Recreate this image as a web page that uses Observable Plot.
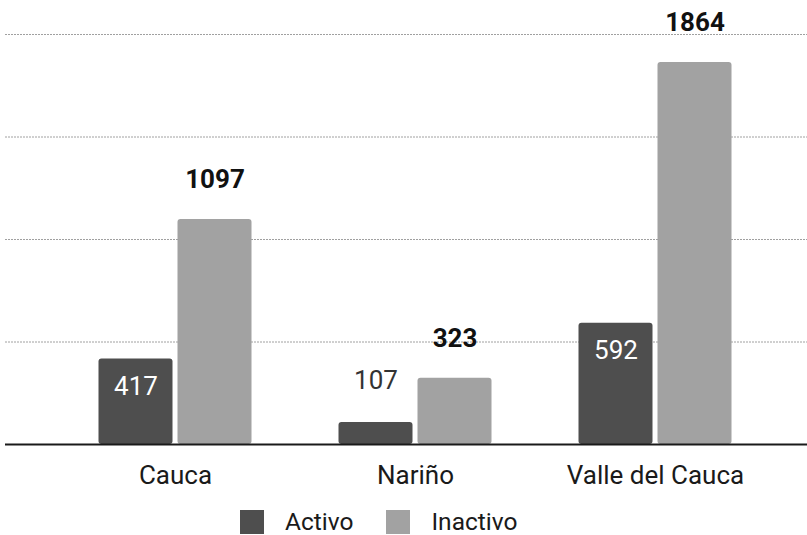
<!DOCTYPE html>
<html>
<head>
<meta charset="utf-8">
<script src="https://cdn.jsdelivr.net/npm/d3@7"></script>
<script src="https://cdn.jsdelivr.net/npm/@observablehq/plot@0.6"></script>
<style>
  html, body { margin: 0; padding: 0; background: #fff; }
  #chart { width: 807px; font-family: Roboto, sans-serif; }
  .legend { display: flex; align-items: center; height: 27px; margin-top: 18px; padding-left: 240px; box-sizing: border-box; font-size: 24.5px; color: #1a1a1a; }
  .legend .item { display: flex; align-items: center; margin-right: 33px; }
  .legend .sw { width: 24px; height: 24px; margin-right: 21px; }
</style>
</head>
<body>
<div id="chart"></div>
<script>
const regions = ["Cauca", "Nariño", "Valle del Cauca"];
const statuses = ["Activo", "Inactivo"];
const activo = [417, 107, 592];
const inactivo = [1097, 323, 1864];
const gridTicks = [500, 1000, 1500, 2000];
const colors = ["#4e4e4e", "#a2a2a2"];

const actData = regions.map((r, i) => ({region: r, status: "Activo", value: activo[i]}));
const inactData = regions.map((r, i) => ({region: r, status: "Inactivo", value: inactivo[i]}));
const actIn = actData.filter(d => d.value > 300);
const actOut = actData.filter(d => d.value <= 300);

// bar layout inside each 240px band: two 74px bars with a 5px gap
const outer = 43.5, inner = 122.5, shift = 39.5;

const plot = Plot.plot({
  width: 807,
  height: 490,
  marginTop: 34,
  marginBottom: 46,
  marginLeft: 5,
  marginRight: 0,
  style: {fontFamily: "Roboto, sans-serif", background: "white", color: "#1a1a1a"},
  x: {domain: regions, paddingInner: 0, paddingOuter: 0.1708, align: 0.604, label: null},
  y: {domain: [0, 2000], axis: null},
  color: {domain: statuses, range: colors},
  marks: [
    Plot.ruleY(gridTicks, {stroke: "#a0a0a0", strokeDasharray: "2,1"}),
    Plot.barY(actData, {x: "region", y: "value", fill: "status", rx: 3, insetLeft: outer, insetRight: inner}),
    Plot.barY(inactData, {x: "region", y: "value", fill: "status", rx: 3, insetLeft: inner, insetRight: outer}),
    Plot.ruleY([0], {stroke: "#1a1a1a", strokeWidth: 2}),
    Plot.text(inactData, {x: "region", y: "value", text: d => String(d.value), dx: shift, dy: -40, fontSize: 26, fontWeight: "bold", fill: "#111"}),
    Plot.text(actIn, {x: "region", y: "value", text: d => String(d.value), dx: -shift, dy: 28, fontSize: 26, fill: "white"}),
    Plot.text(actOut, {x: "region", y: "value", text: d => String(d.value), dx: -shift, dy: -42, fontSize: 26, fill: "#333"}),
    Plot.axisX({anchor: "bottom", tickSize: 0, tickPadding: 21, fontSize: 26, label: null, fill: "#1a1a1a"})
  ]
});
document.getElementById("chart").appendChild(plot);

const legend = document.createElement("div");
legend.className = "legend";
statuses.forEach((s, i) => {
  const item = document.createElement("div");
  item.className = "item";
  const sw = document.createElement("span");
  sw.className = "sw";
  sw.style.background = colors[i];
  const lab = document.createElement("span");
  lab.textContent = s;
  item.appendChild(sw);
  item.appendChild(lab);
  legend.appendChild(item);
});
document.getElementById("chart").appendChild(legend);
</script>
</body>
</html>
